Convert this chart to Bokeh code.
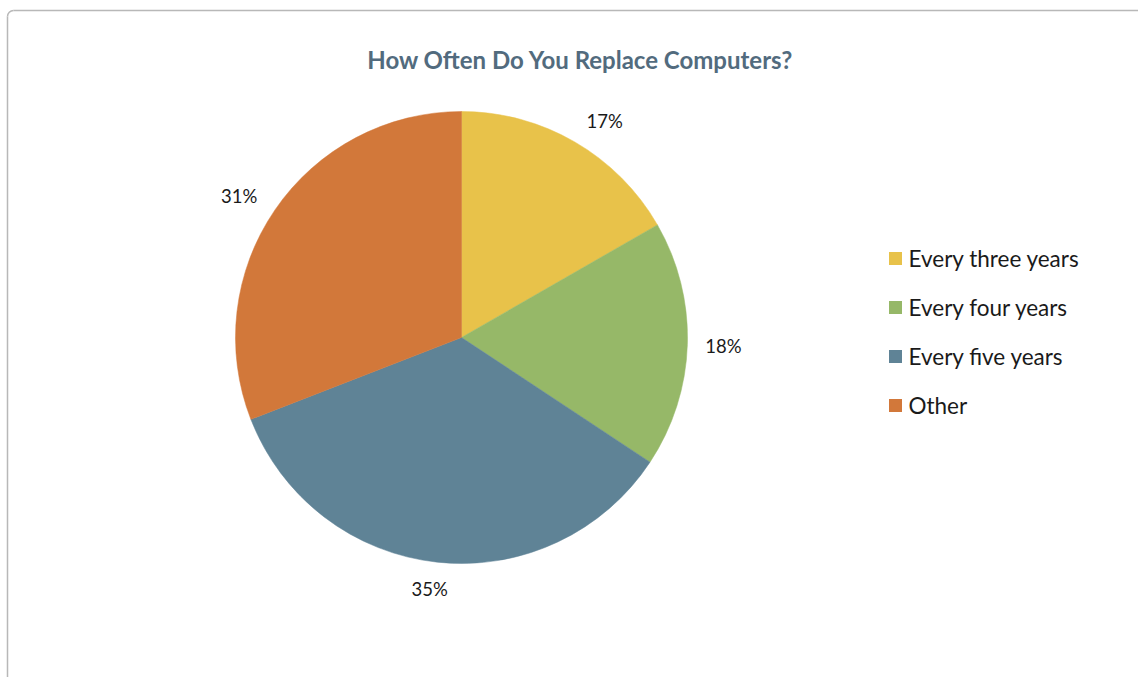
import math
from bokeh.plotting import figure
from bokeh.models import Range1d, ColumnDataSource
from bokeh.core.properties import value
from bokeh.embed import file_html
from bokeh.resources import INLINE

# ---- data ----
title_text = "How Often Do You Replace Computers?"
categories = ["Every three years", "Every four years", "Every five years", "Other"]
shares = [16.7, 17.6, 34.8, 30.9]
pct_labels = ["17%", "18%", "35%", "31%"]
colors = ["#E8C24A", "#96B868", "#5F8396", "#D2783A"]

# label nudges (screen px, layout only)
label_nudge_x = [12, 0, -4, -6]
label_nudge_y = [-10, 0, 9, -6]

W, H = 1138, 677
p = figure(width=W, height=H, output_backend="svg", toolbar_location=None,
           x_range=Range1d(0, W), y_range=Range1d(0, H),
           min_border=0, min_border_left=0, min_border_right=0,
           min_border_top=0, min_border_bottom=0)
p.axis.visible = False
p.grid.visible = False
p.outline_line_color = None
p.background_fill_color = "white"
p.border_fill_color = "white"

def px(page_x):
    return page_x

def py(page_y):
    return H - page_y

# card border (top and left visible, rest runs off the window)
bc = "#b8b8b8"
p.line(x=[px(7), px(7)], y=[py(700), py(16)], line_color=bc, line_width=1.5)
p.line(x=[px(13), px(1160)], y=[py(10), py(10)], line_color=bc, line_width=1.5)
p.arc(x=[px(13)], y=[py(16)], radius=6, start_angle=math.pi / 2, end_angle=math.pi,
      line_color=bc, line_width=1.5)

# ---- pie ----
cx, cy, r = px(461), py(337), 226
total = sum(shares)
starts, ends, lx, ly = [], [], [], []
cum = 0.0
for i, s in enumerate(shares):
    a0 = math.pi / 2 - 2 * math.pi * cum / total
    cum += s
    a1 = math.pi / 2 - 2 * math.pi * cum / total
    starts.append(a0)
    ends.append(a1)
    mid = (a0 + a1) / 2
    lx.append(cx + 262 * math.cos(mid) + label_nudge_x[i])
    ly.append(cy + 262 * math.sin(mid) + label_nudge_y[i])

src = ColumnDataSource(dict(start=starts, end=ends, color=colors, cat=categories,
                            lx=lx, ly=ly, lab=pct_labels))
p.wedge(x=cx, y=cy, radius=r, start_angle="start", end_angle="end", direction="clock",
        fill_color="color", line_color="color", line_width=0.5, source=src)
p.text(x="lx", y="ly", text="lab", source=src, text_align="center", text_baseline="middle",
       text_font=value("Lato"), text_font_size="18.5px", text_color="#1a1a1a")

# ---- title ----
p.text(x=[px(580)], y=[py(59)], text=[title_text], text_align="center", text_baseline="middle",
       text_font=value("Lato"), text_font_size="24px", text_font_style="bold", text_color="#526B7E")

# ---- legend ----
leg_y = [py(258 + 49 * i) for i in range(len(categories))]
p.rect(x=[px(895)] * len(categories), y=leg_y, width=13, height=13,
       width_units="screen", height_units="screen", fill_color=colors, line_color=None)
p.text(x=[px(908)] * len(categories), y=leg_y, text=categories, text_align="left",
       text_baseline="middle", text_font=value("Lato"), text_font_size="22.5px", text_color="#1a1a1a")

open("out.html", "w").write(file_html(p, INLINE))
